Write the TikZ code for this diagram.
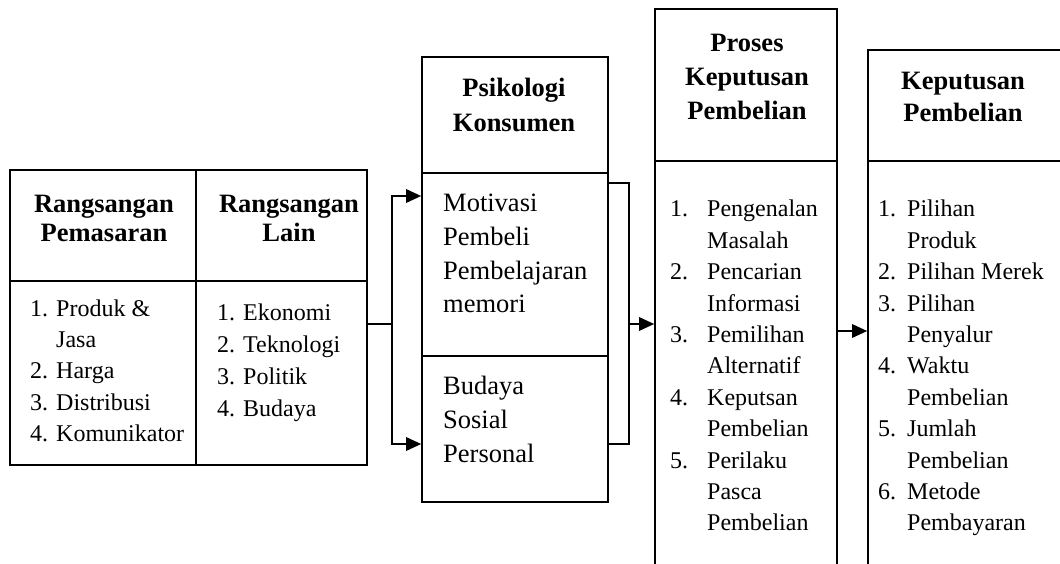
\documentclass[tikz,border=0pt]{standalone}
\usepackage{fontspec}
\setmainfont{Liberation Serif}
\usetikzlibrary{arrows.meta,positioning,calc}
\newcommand\nomor[2]{\makebox[#1][l]{#2}}

\begin{document}
\begin{tikzpicture}[x=1pt,y=-1pt,>={Triangle[length=15pt,width=13.5pt]},
   every node/.style={inner sep=0pt},
   box/.style={draw,line width=1.7pt},
   garis/.style={line width=1.7pt},
   head/.style={align=center,font=\bfseries\fontsize{26.5}{#1}\selectfont},
   list/.style={align=left,anchor=north west,font=\fontsize{24}{#1}\selectfont},
   big/.style={align=left,anchor=north west,font=\fontsize{26.5}{#1}\selectfont}]
  \useasboundingbox (0,0) rectangle (1060,563);
  % kotak-kotak
  \node[box,minimum width=186pt,minimum height=111pt] (pemasaran)   at (103,225.5) {};
  \node[box,minimum width=186pt,minimum height=184pt] (pemasaranB)  at (103,373) {};
  \node[box,minimum width=171pt,minimum height=111pt] (lain)        at (281.5,225.5) {};
  \node[box,minimum width=171pt,minimum height=184pt] (lainB)       at (281.5,373) {};
  \node[box,minimum width=186pt,minimum height=116pt] (psiko)       at (515,115) {};
  \node[box,minimum width=186pt,minimum height=183pt] (psikoA)      at (515,264.5) {};
  \node[box,minimum width=186pt,minimum height=146pt] (psikoB)      at (515,429) {};
  \node[box,minimum width=182pt,minimum height=152pt] (proses)      at (746,85) {};
  \node[box,minimum width=182pt,minimum height=414pt] (prosesB)     at (746,368) {};
  \node[box,minimum width=198pt,minimum height=111pt] (keputusan)   at (967,105.5) {};
  \node[box,minimum width=198pt,minimum height=414pt] (keputusanB)  at (967,368) {};
  % judul
  \node[head=29] at (104,218) {Rangsangan\\Pemasaran};
  \node[head=29] at (289,218) {Rangsangan\\Lain};
  \node[head=35] at (514,104.5) {Psikologi\\Konsumen};
  \node[head=34] at (747,76.5) {Proses\\Keputusan\\Pembelian};
  \node[head=32] at (963,96.5) {Keputusan\\Pembelian};
  % isi
  \node[list=31.3] (isiPemasaran) at (30,299.5)
    {1. Produk \&\\\phantom{1. }Jasa\\2. Harga\\3. Distribusi\\4. Komunikator};
  \node[list=32] (isiLain) at (217,304) {1. Ekonomi\\2. Teknologi\\3. Politik\\4. Budaya};
  \node[big=33.7] (isiPsikoA) at (443,194) {Motivasi\\Pembeli\\Pembelajaran\\memori};
  \node[big=34] (isiPsikoB) at (443,376) {Budaya\\Sosial\\Personal};
  \node[list=31.4] (isiProses) at (670,200)
    {\nomor{37pt}{1.}Pengenalan\\\nomor{37pt}{}Masalah\\
     \nomor{37pt}{2.}Pencarian\\\nomor{37pt}{}Informasi\\
     \nomor{37pt}{3.}Pemilihan\\\nomor{37pt}{}Alternatif\\
     \nomor{37pt}{4.}Keputsan\\\nomor{37pt}{}Pembelian\\
     \nomor{37pt}{5.}Perilaku\\\nomor{37pt}{}Pasca\\\nomor{37pt}{}Pembelian};
  \node[list=31.4] (isiKeputusan) at (878,200)
    {\nomor{29pt}{1.}Pilihan\\\nomor{29pt}{}Produk\\
     \nomor{29pt}{2.}Pilihan Merek\\
     \nomor{29pt}{3.}Pilihan\\\nomor{29pt}{}Penyalur\\
     \nomor{29pt}{4.}Waktu\\\nomor{29pt}{}Pembelian\\
     \nomor{29pt}{5.}Jumlah\\\nomor{29pt}{}Pembelian\\
     \nomor{29pt}{6.}Metode\\\nomor{29pt}{}Pembayaran};
  % panah
  \coordinate (bagi) at (392,324);
  \coordinate (gabung) at (629,324);
  \draw[garis] (lainB.east |- bagi) -- (bagi);
  \draw[->,garis] (bagi) |- (psikoA.west |- 0,196);
  \draw[->,garis] (bagi) |- (psikoB.west |- 0,444);
  \draw[garis] (psikoA.east |- 0,183) -| (gabung);
  \draw[garis] (psikoB.east |- 0,444) -| (gabung);
  \draw[->,garis] (gabung) -- (prosesB.west |- gabung);
  \draw[->,garis] (prosesB.east |- 0,331) -- (keputusanB.west |- 0,331);
\end{tikzpicture}
\end{document}
